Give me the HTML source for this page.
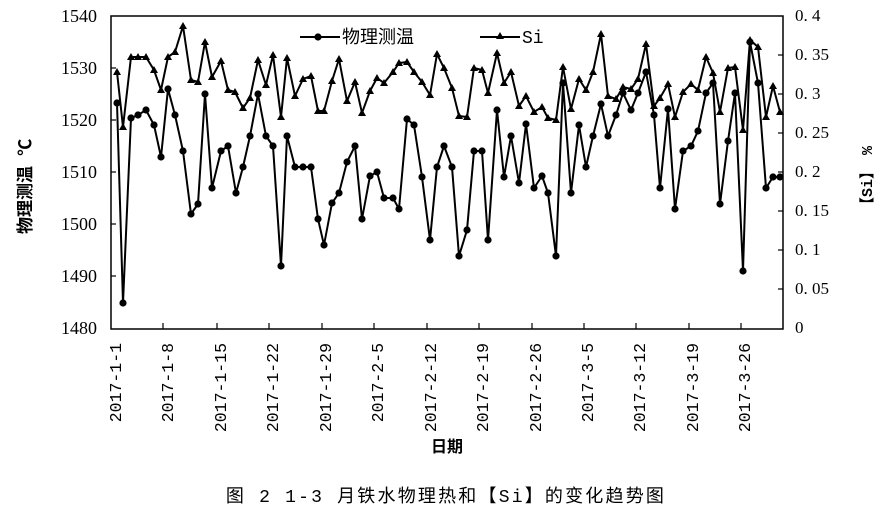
<!DOCTYPE html>
<html><head><meta charset="utf-8"><style>
html,body{margin:0;padding:0;background:#fff;}
svg{display:block;}
text{fill:#000;}
.m{font-family:"Liberation Mono","Noto Sans CJK SC",monospace;}
.s{font-family:"Liberation Serif","Noto Serif CJK SC",serif;}
</style></head><body>
<svg width="894" height="511" viewBox="0 0 894 511" xmlns="http://www.w3.org/2000/svg">
<defs>
<marker id="c" markerUnits="userSpaceOnUse" markerWidth="10" markerHeight="10" refX="5" refY="5"><circle cx="5" cy="5" r="3.6" fill="#000"/></marker>
<marker id="t" markerUnits="userSpaceOnUse" markerWidth="10" markerHeight="10" refX="5" refY="5"><polygon points="5,1 9,8 1,8" fill="#000"/></marker>
</defs>
<rect x="111" y="16" width="672" height="313" fill="none" stroke="#000" stroke-width="1.5"/>
<g stroke="#000" stroke-width="1.2">
<line x1="111" y1="68" x2="116" y2="68"/><line x1="111" y1="120" x2="116" y2="120"/><line x1="111" y1="172" x2="116" y2="172"/><line x1="111" y1="224" x2="116" y2="224"/><line x1="111" y1="276" x2="116" y2="276"/>
<line x1="778" y1="55" x2="783" y2="55"/><line x1="778" y1="94" x2="783" y2="94"/><line x1="778" y1="133" x2="783" y2="133"/><line x1="778" y1="172" x2="783" y2="172"/><line x1="778" y1="211" x2="783" y2="211"/><line x1="778" y1="250" x2="783" y2="250"/><line x1="778" y1="289" x2="783" y2="289"/>
<line x1="163" y1="323" x2="163" y2="329"/><line x1="217" y1="323" x2="217" y2="329"/><line x1="269" y1="323" x2="269" y2="329"/><line x1="322" y1="323" x2="322" y2="329"/><line x1="374" y1="323" x2="374" y2="329"/><line x1="427" y1="323" x2="427" y2="329"/><line x1="479" y1="323" x2="479" y2="329"/><line x1="532" y1="323" x2="532" y2="329"/><line x1="584" y1="323" x2="584" y2="329"/><line x1="636" y1="323" x2="636" y2="329"/><line x1="689" y1="323" x2="689" y2="329"/><line x1="741" y1="323" x2="741" y2="329"/>
</g>
<g class="s" font-size="18" text-anchor="end">
<text x="97" y="22">1540</text><text x="97" y="74">1530</text><text x="97" y="126">1520</text><text x="97" y="178">1510</text><text x="97" y="230">1500</text><text x="97" y="282">1490</text><text x="97" y="334">1480</text>
</g>
<g class="s" font-size="17">
<text x="795" y="21">0. 4</text><text x="795" y="60">0. 35</text><text x="795" y="99">0. 3</text><text x="795" y="138">0. 25</text><text x="795" y="177">0. 2</text><text x="795" y="216">0. 15</text><text x="795" y="255">0. 1</text><text x="795" y="294">0. 05</text><text x="795" y="333">0</text>
</g>
<g class="m" font-size="16.5" text-anchor="end">
<text transform="translate(121,343) rotate(-90)">2017-1-1</text>
<text transform="translate(173,343) rotate(-90)">2017-1-8</text>
<text transform="translate(226,343) rotate(-90)">2017-1-15</text>
<text transform="translate(278,343) rotate(-90)">2017-1-22</text>
<text transform="translate(331,343) rotate(-90)">2017-1-29</text>
<text transform="translate(383,343) rotate(-90)">2017-2-5</text>
<text transform="translate(436,343) rotate(-90)">2017-2-12</text>
<text transform="translate(488,343) rotate(-90)">2017-2-19</text>
<text transform="translate(541,343) rotate(-90)">2017-2-26</text>
<text transform="translate(593,343) rotate(-90)">2017-3-5</text>
<text transform="translate(645,343) rotate(-90)">2017-3-12</text>
<text transform="translate(698,343) rotate(-90)">2017-3-19</text>
<text transform="translate(750,343) rotate(-90)">2017-3-26</text>
</g>
<text class="m" x="447" y="452" font-size="16" font-weight="bold" text-anchor="middle">日期</text>
<text class="m" x="446" y="502" font-size="18" letter-spacing="2.2" text-anchor="middle">图 2 1-3 月铁水物理热和【Si】的变化趋势图</text>
<text class="m" transform="translate(31,234) rotate(-90)" font-size="17" font-weight="bold">物理测温  ℃</text>
<text class="m" transform="translate(872,212) rotate(-90)" font-size="15" font-weight="bold">【Si】   %</text>
<g fill="none" stroke="#000" stroke-width="2">
<line x1="300" y1="37" x2="340" y2="37"/>
<line x1="480" y1="37" x2="520" y2="37"/>
</g>
<circle cx="318" cy="37" r="3.6"/>
<polygon points="500,32 504,39 496,39"/>
<text class="m" x="342" y="43" font-size="18">物理测温</text>
<text class="m" x="522" y="43" font-size="18">Si</text>
<polyline fill="none" stroke="#000" stroke-width="2" marker-start="url(#c)" marker-mid="url(#c)" marker-end="url(#c)" points="117,103 123,303 131,118 138,115 146,110 154,125 161,157 168,89 175,115 183,151 191,214 198,204 205,94 212,188 221,151 228,146 236,193 243,167 250,136 258,94 266,136 273,146 281,266 287,136 295,167 303,167 311,167 318,219 324,245 332,203 339,193 347,162 355,146 362,219 370,176 377,172 384,198 393,198 399,209 407,119 414,125 422,177 430,240 437,167 444,146 452,167 459,256 467,230 474,151 482,151 488,240 497,110 504,177 511,136 519,183 526,124 534,188 542,176 548,193 556,256 563,83 571,193 579,125 586,167 593,136 601,104 608,136 616,115 623,93 631,110 638,93 646,72 654,115 660,188 668,109 675,209 683,151 691,146 698,131 706,93 713,83 720,204 728,141 735,93 743,271 750,42 758,83 766,188 773,177 780,177"/>
<polyline fill="none" stroke="#000" stroke-width="2" marker-start="url(#t)" marker-mid="url(#t)" marker-end="url(#t)" points="117,72 123,127 131,57 138,57 146,57 154,70 161,90 168,57 175,52 183,26 191,80 198,82 205,42 212,77 221,61 228,90 235,92 243,108 250,98 258,60 266,85 273,55 281,117 287,58 295,96 303,79 311,76 318,111 324,111 332,81 339,59 347,101 355,82 362,113 370,91 377,78 384,83 393,72 399,63 407,62 414,72 422,82 430,95 437,54 444,68 452,88 459,116 467,117 474,68 482,70 488,93 497,53 504,83 511,72 519,106 526,96 534,112 542,107 548,118 556,120 563,67 571,109 579,79 586,90 593,72 601,34 608,96 616,99 623,87 631,89 638,79 646,44 654,106 660,98 668,84 675,117 683,92 691,84 698,90 706,57 713,73 720,112 728,68 735,67 743,130 750,40 758,47 766,117 773,86 780,112"/>
</svg>
</body></html>
